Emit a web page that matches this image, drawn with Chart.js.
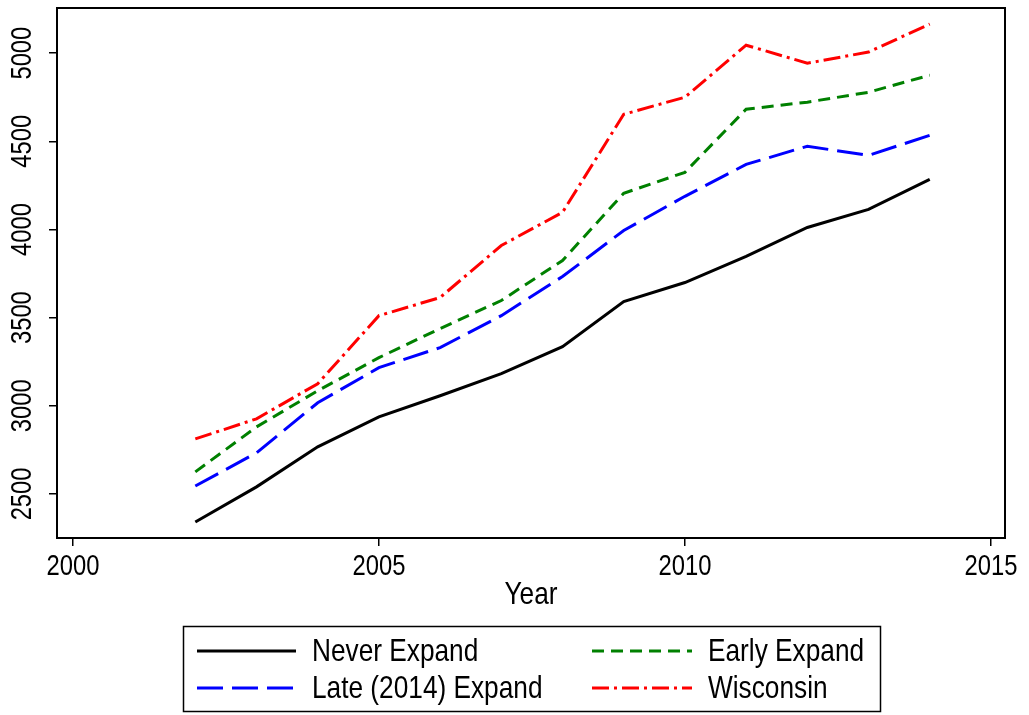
<!DOCTYPE html>
<html>
<head>
<meta charset="utf-8">
<script src="https://cdn.jsdelivr.net/npm/chart.js@4.4.0/dist/chart.umd.min.js"></script>
<style>
  html, body { margin: 0; padding: 0; background: #fff; }
  canvas { display: block; }
</style>
</head>
<body>
<canvas id="chart" width="1029" height="715"></canvas>
<script>
// ---- data ----
const years = [2002, 2003, 2004, 2005, 2006, 2007, 2008, 2009, 2010, 2011, 2012, 2013, 2014];
const neverExpand = [2341, 2540, 2767, 2937, 3057, 3182, 3335, 3591, 3699, 3847, 4011, 4114, 4284];
const earlyExpand = [2625, 2880, 3085, 3273, 3438, 3597, 3824, 4205, 4324, 4682, 4722, 4778, 4875];
const lateExpand = [2545, 2733, 3017, 3216, 3330, 3511, 3733, 3994, 4188, 4369, 4472, 4420, 4534];
const wisconsin = [2812, 2926, 3125, 3511, 3614, 3909, 4097, 4653, 4750, 5045, 4943, 5006, 5165];

const xTicks = [2000, 2005, 2010, 2015];
const yTicks = [2500, 3000, 3500, 4000, 4500, 5000];
const xTitle = "Year";

const FONT = "'Liberation Sans', Arial, sans-serif";
const SQUEEZE = 0.82; // Stata text is a bit condensed

function points(values) {
  return years.map((yr, i) => ({ x: yr, y: values[i] }));
}

// condensed text, optionally rotated
function narrowText(ctx, text, x, y, size, align, angle) {
  ctx.save();
  ctx.translate(x, y);
  if (angle) ctx.rotate(angle);
  ctx.scale(SQUEEZE, 1);
  ctx.font = size + "px " + FONT;
  ctx.textAlign = align;
  ctx.textBaseline = "middle";
  ctx.fillText(text, 0, 0);
  ctx.restore();
}

// frame, tick labels, axis title and the boxed two-column legend
const stataPlugin = {
  id: "stata",
  afterDraw(chart) {
    const ctx = chart.ctx;
    const a = chart.chartArea;
    ctx.save();
    ctx.strokeStyle = "#000";
    ctx.fillStyle = "#000";
    ctx.lineWidth = 2;
    ctx.strokeRect(a.left, a.top, a.right - a.left, a.bottom - a.top);

    const y = chart.scales.y;
    y.ticks.forEach(t => {
      narrowText(ctx, String(t.value), 23, y.getPixelForValue(t.value), 29, "center", -Math.PI / 2);
    });

    const x = chart.scales.x;
    x.ticks.forEach(t => {
      narrowText(ctx, String(t.value), x.getPixelForValue(t.value), 567, 29, "center");
    });
    narrowText(ctx, xTitle, (a.left + a.right) / 2, 595, 32, "center");

    // legend
    ctx.lineWidth = 1.5;
    ctx.strokeRect(183.5, 626.5, 697, 85);
    const cols = [{ x0: 197, x1: 296, tx: 312 }, { x0: 592, x1: 692, tx: 708 }];
    const rows = [651, 688];
    chart.data.datasets.forEach((ds, i) => {
      const c = cols[i % 2];
      const ry = rows[Math.floor(i / 2)];
      ctx.strokeStyle = ds.borderColor;
      ctx.lineWidth = ds.borderWidth;
      ctx.setLineDash(ds.borderDash || []);
      ctx.beginPath();
      ctx.moveTo(c.x0, ry);
      ctx.lineTo(c.x1, ry);
      ctx.stroke();
      ctx.setLineDash([]);
      narrowText(ctx, ds.label, c.tx, ry + 1, 32, "left");
    });
    ctx.restore();
  }
};

new Chart(document.getElementById("chart"), {
  type: "line",
  data: {
    datasets: [
      { label: "Never Expand", data: points(neverExpand), borderColor: "#000000", borderWidth: 3, borderDash: [] },
      { label: "Early Expand", data: points(earlyExpand), borderColor: "#008000", borderWidth: 3, borderDash: [12, 7] },
      { label: "Late (2014) Expand", data: points(lateExpand), borderColor: "#0000ff", borderWidth: 3, borderDash: [26, 9] },
      { label: "Wisconsin", data: points(wisconsin), borderColor: "#ff0000", borderWidth: 3, borderDash: [17, 5, 3, 5] }
    ]
  },
  options: {
    responsive: false,
    animation: false,
    layout: { padding: { top: 8, right: 24, bottom: 97, left: 0 } },
    elements: { point: { radius: 0 }, line: { tension: 0 } },
    plugins: { legend: { display: false }, tooltip: { enabled: false } },
    scales: {
      x: {
        type: "linear",
        min: 1999.74,
        max: 2015.23,
        afterBuildTicks: s => { s.ticks = xTicks.map(v => ({ value: v })); },
        afterFit: s => { s.height = 80; },
        ticks: { display: false },
        grid: { drawOnChartArea: false, drawTicks: true, tickLength: 8, color: "#000", lineWidth: 1.5 },
        border: { display: false }
      },
      y: {
        min: 2250,
        max: 5256,
        afterBuildTicks: s => { s.ticks = yTicks.map(v => ({ value: v })); },
        afterFit: s => { s.width = 57; },
        ticks: { display: false },
        grid: { drawOnChartArea: false, drawTicks: true, tickLength: 8, color: "#000", lineWidth: 1.5 },
        border: { display: false }
      }
    }
  },
  plugins: [stataPlugin]
});
</script>
</body>
</html>
